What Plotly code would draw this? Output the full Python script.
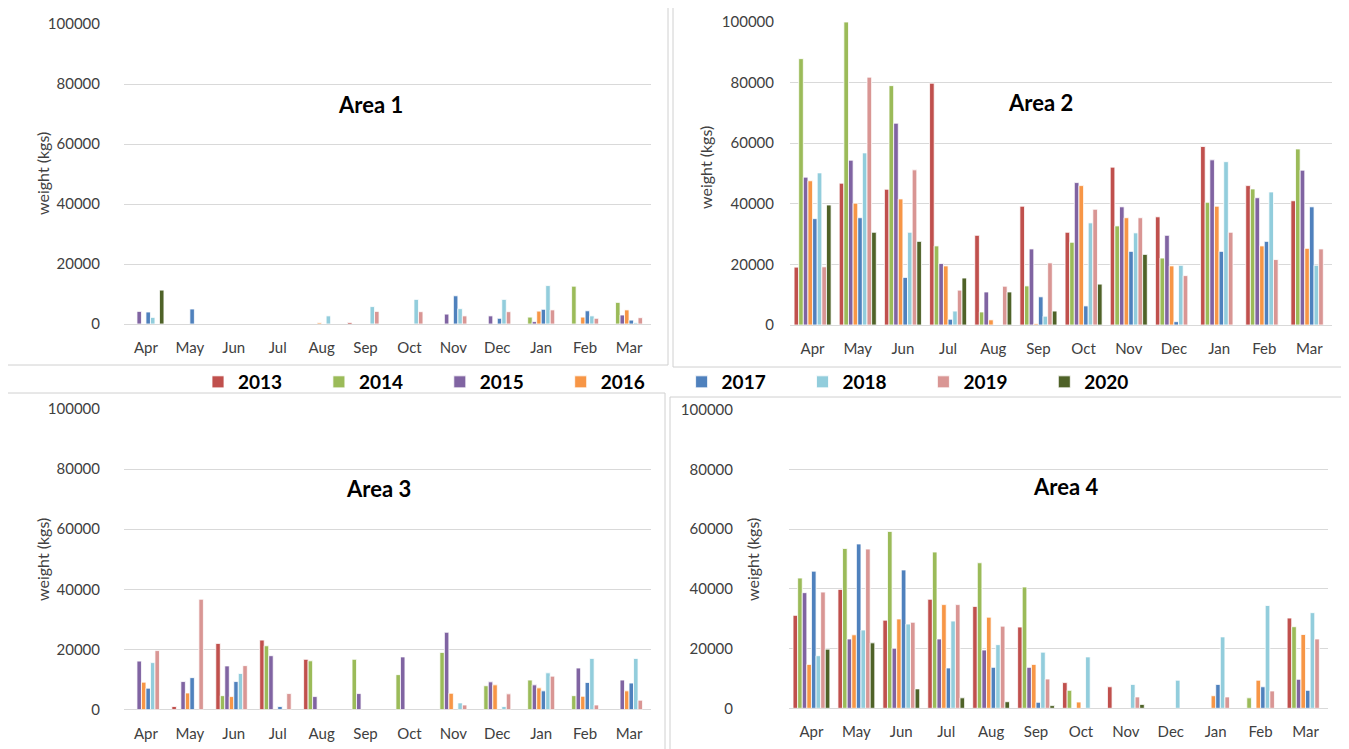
import plotly.graph_objects as go

MONTHS = ["Apr", "May", "Jun", "Jul", "Aug", "Sep", "Oct", "Nov", "Dec", "Jan", "Feb", "Mar"]
YEARS = ["2013", "2014", "2015", "2016", "2017", "2018", "2019", "2020"]
COLORS = ["#C0504D", "#9BBB59", "#8064A2", "#F79646", "#4F81BD", "#92CDDC", "#D99694", "#4F6228"]
Y_TICKS = [0, 20000, 40000, 60000, 80000, 100000]
N = None

# ---- Area 1 ----
A1_2013 = [N, N, N, N, N, 500, N, N, N, N, N, N]
A1_2014 = [N, N, N, N, N, N, N, N, N, 2300, 12600, 7200]
A1_2015 = [4200, N, N, N, N, N, N, 3300, 2700, 800, N, 3000]
A1_2016 = [N, N, N, N, 400, N, N, N, N, 4300, 2300, 4700]
A1_2017 = [4000, 5000, N, N, N, N, N, 9400, 1900, 4900, 4400, 1300]
A1_2018 = [2200, N, N, N, 2700, 5800, 8200, 5100, 8200, 12800, 2700, 400]
A1_2019 = [N, N, N, N, N, 4200, 4100, 2700, 4100, 4700, 1900, 2100]
A1_2020 = [11300, N, N, N, N, N, N, N, N, N, N, N]

# ---- Area 2 ----
A2_2013 = [19100, 46800, 44800, 79800, 29600, 39200, 30600, 52100, 35700, 58900, 46000, 41000]
A2_2014 = [87900, 100000, 79000, 26100, 4300, 12900, 27300, 32700, 22100, 40500, 44900, 58100]
A2_2015 = [48800, 54400, 66600, 20300, 10900, 25100, 47000, 39000, 29600, 54500, 42000, 51100]
A2_2016 = [47600, 40200, 41600, 19500, 1700, 400, 46000, 35400, 19500, 39200, 26100, 25300]
A2_2017 = [35100, 35400, 15700, 1900, N, 9300, 6300, 24300, 1100, 24300, 27600, 39000]
A2_2018 = [50200, 56800, 30600, 4600, N, 2900, 33700, 30400, 19700, 53900, 43900, 19700]
A2_2019 = [19200, 81800, 51200, 11500, 12800, 20500, 38200, 35400, 16300, 30600, 21600, 25100]
A2_2020 = [39600, 30600, 27600, 15500, 10900, 4600, 13500, 23300, N, N, N, N]

# ---- Area 3 ----
A3_2013 = [N, 1000, 22000, 23100, 16700, N, N, N, N, N, N, N]
A3_2014 = [N, N, 4600, 21200, 16200, 16700, 11600, 19000, 7900, 9800, 4600, N]
A3_2015 = [16100, 9300, 14500, 17900, 4300, 5300, 17500, 25700, 9200, 8200, 13800, 9800]
A3_2016 = [9100, 5500, 4300, N, N, N, N, 5400, 8200, 7200, 4400, 6200]
A3_2017 = [7100, 10600, 9300, 1000, N, N, N, N, N, 6200, 9000, 8800]
A3_2018 = [15600, N, 12000, N, N, N, N, 2200, 1000, 12200, 17000, 17000]
A3_2019 = [19600, 36700, 14600, 5300, N, N, N, 1500, 5200, 11100, 1500, 3100]
A3_2020 = [N, N, N, N, N, N, N, N, N, N, N, N]

# ---- Area 4 ----
A4_2013 = [31100, 39800, 29500, 36500, 34100, 27200, 8600, 7200, N, N, N, 30200]
A4_2014 = [43600, 53500, 59200, 52300, 48700, 40600, 6000, N, N, N, 3500, 27300]
A4_2015 = [38700, 23200, 20100, 23200, 19500, 13700, N, N, N, N, N, 9700]
A4_2016 = [14700, 24600, 29900, 34700, 30500, 14700, 2100, N, N, 4200, 9400, 24700]
A4_2017 = [45900, 55000, 46300, 13500, 13700, 2000, N, N, N, 8000, 7200, 6000]
A4_2018 = [17600, 26200, 28200, 29200, 21300, 18800, 17200, 8000, 9400, 23900, 34400, 32000]
A4_2019 = [38900, 53300, 28800, 34700, 27500, 9800, N, 3800, N, 3800, 5800, 23200]
A4_2020 = [19800, 21900, 6500, 3500, 2200, 900, N, 1300, N, N, N, N]

AREAS = [
    ("Area 1", [A1_2013, A1_2014, A1_2015, A1_2016, A1_2017, A1_2018, A1_2019, A1_2020]),
    ("Area 2", [A2_2013, A2_2014, A2_2015, A2_2016, A2_2017, A2_2018, A2_2019, A2_2020]),
    ("Area 3", [A3_2013, A3_2014, A3_2015, A3_2016, A3_2017, A3_2018, A3_2019, A3_2020]),
    ("Area 4", [A4_2013, A4_2014, A4_2015, A4_2016, A4_2017, A4_2018, A4_2019, A4_2020]),
]

# the page places the figure 8px in from the top-left corner
OFF = 8
W, H = 1349 - 2 * OFF, 749 - OFF
FONT = "Lato, 'Open Sans', sans-serif"

def px(x):
    return (x - OFF) / W

def py(y):
    return 1 - (y - OFF) / H

# panel geometry in screen pixels: (x0, x1, y_zero, y_top)
PANELS = [
    (124, 651, 324, 24),
    (790, 1332, 325, 22),
    (124, 651, 709.5, 409),
    (789, 1328, 708.3, 409.5),
]
TITLE_POS = [(370, 104), (1040, 103), (378, 488), (1065, 486)]
YTITLE_POS = [(42, 174), (705, 168), (42, 560), (752, 560)]
STANDOFF = [23, 15, 23, 55]

fig = go.Figure()
for i, (name, series) in enumerate(AREAS):
    ax = "" if i == 0 else str(i + 1)
    for j, vals in enumerate(series):
        lg = "legend" if j == 0 else "legend%d" % (j + 1)
        fig.add_trace(go.Bar(
            x=MONTHS, y=vals, name=YEARS[j],
            marker=dict(color=COLORS[j], line=dict(color="white", width=0.8)),
            xaxis="x" + ax, yaxis="y" + ax,
            showlegend=(i == 0), legend=lg,
        ))
    x0, x1, yz, yt = PANELS[i]
    fig.layout["xaxis" + ax] = dict(
        domain=[px(x0), px(x1)], anchor="y" + ax, type="category",
        categoryorder="array", categoryarray=MONTHS,
        showgrid=False, showline=False, ticks="", zeroline=False,
        tickfont=dict(family=FONT, size=15, color="#404040"),
        ticklabelstandoff=13,
    )
    fig.layout["yaxis" + ax] = dict(
        domain=[py(yz), py(yt)], anchor="x" + ax, range=[0, 100000],
        tickvals=Y_TICKS, ticktext=[str(v) for v in Y_TICKS],
        showgrid=True, gridcolor="#D9D9D9", gridwidth=1,
        zeroline=True, zerolinecolor="#D9D9D9", zerolinewidth=1,
        showline=False, ticks="",
        tickfont=dict(family=FONT, size=15, color="#404040"),
        ticklabelstandoff=STANDOFF[i],
    )
    tx, ty = TITLE_POS[i]
    fig.add_annotation(x=px(tx), y=py(ty), xref="paper", yref="paper",
                       xanchor="center", yanchor="middle",
                       text="<b>%s</b>" % name, showarrow=False,
                       font=dict(family=FONT, size=22, color="black"))
    yx, yy = YTITLE_POS[i]
    fig.add_annotation(x=px(yx), y=py(yy), xref="paper", yref="paper",
                       xanchor="center", yanchor="middle",
                       text="weight (kgs)", textangle=-90, showarrow=False,
                       font=dict(family=FONT, size=16, color="#404040"))

# chart borders (light gray frames of the four composed charts)
BORDERS = [
    (668, 0, 668, 365), (0, 365, 668, 365),
    (673, 0, 673, 367), (673, 367, 1349, 367),
    (0, 393, 665, 393), (665, 393, 665, 749),
    (670, 397, 1349, 397), (670, 397, 670, 749),
]
for (a, b, c, d) in BORDERS:
    fig.add_shape(type="line", xref="paper", yref="paper",
                  x0=px(a), y0=py(b), x1=px(c), y1=py(d),
                  line=dict(color="#D0D0D0", width=1))

# one single-entry legend per year, spaced like the reference legend row
legend_layout = {}
for j in range(len(YEARS)):
    key = "legend" if j == 0 else "legend%d" % (j + 1)
    legend_layout[key] = dict(
        x=px(198 + 120.9 * j), y=py(382), xanchor="left", yanchor="middle",
        orientation="h", bgcolor="rgba(0,0,0,0)", borderwidth=0,
        font=dict(family=FONT, size=19, color="black", weight="bold"),
    )

fig.update_layout(
    width=W, height=H,
    margin=dict(l=0, r=0, t=0, b=0, autoexpand=False),
    paper_bgcolor="white", plot_bgcolor="white",
    barmode="group", bargap=0.18, bargroupgap=0,
    font=dict(family=FONT),
    **legend_layout,
)

fig.write_html("out.html")
